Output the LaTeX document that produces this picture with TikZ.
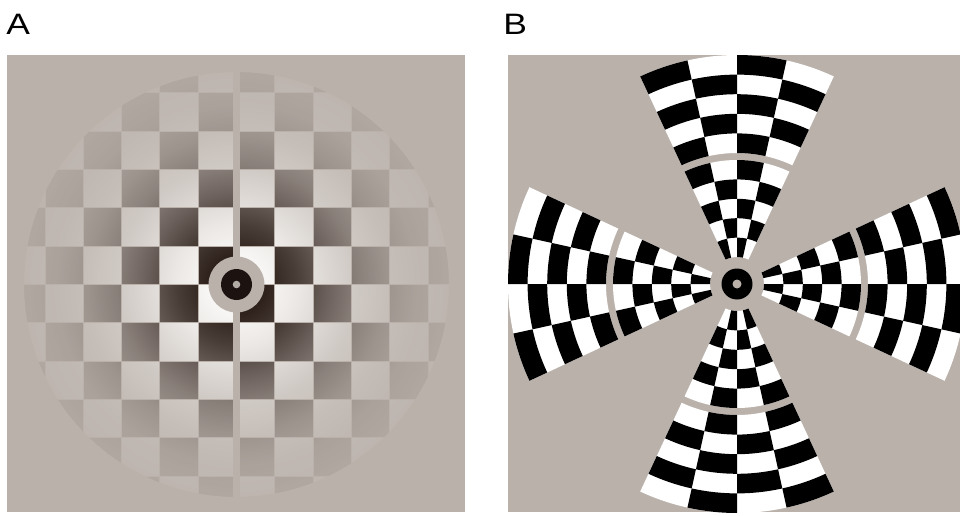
\documentclass[tikz,border=0pt]{standalone}
\usepackage{fontspec}
\setmainfont{Liberation Sans}
\usetikzlibrary{fadings}
\definecolor{bggray}{RGB}{186,177,171}
\definecolor{checklight}{RGB}{251,250,248}
\definecolor{checkdark}{RGB}{40,27,22}
\definecolor{ringdark}{RGB}{28,19,17}
\definecolor{dotgray}{RGB}{178,170,165}
\pgfdeclareradialshading{envelopeshade}{\pgfpointorigin}{%
  color(0bp)=(pgftransparent!100);
  color(3.5bp)=(pgftransparent!95);
  color(7bp)=(pgftransparent!77);
  color(10.5bp)=(pgftransparent!54);
  color(14bp)=(pgftransparent!33);
  color(17.5bp)=(pgftransparent!19);
  color(21bp)=(pgftransparent!10);
  color(25bp)=(pgftransparent!6);
  color(50bp)=(pgftransparent!6)}
\pgfdeclarefading{envelope}{\pgfuseshading{envelopeshade}}
\tikzset{
  panellabel/.style={anchor=base west,inner sep=0pt,xscale=1.2,font=\fontsize{21}{25}\selectfont}
}
\begin{document}
\begin{tikzpicture}[x=0.025cm,y=0.025cm]
    \useasboundingbox (0,0) rectangle (960,515);
    \node[panellabel] (labA) at (6,480) {A};
    \node[panellabel] (labB) at (503,480) {B};
    %% Panel A
    \fill[bggray] (7,3) rectangle (465,460);
    \begin{scope}[shift={(236.5,230.5)}]
        \begin{scope}
            \clip (0,0) circle[radius=213];
            \foreach \i in {-6,...,5} {
                \foreach \j in {-6,...,5} {
                    \pgfmathtruncatemacro\cellsum{\i+\j+12}
                    \ifodd\cellsum \def\cellcolor{checkdark}\else \def\cellcolor{checklight}\fi
                    \fill[\cellcolor] (\i*38.3+0.5,\j*38.3+0.5) rectangle ++(37.3,37.3);
                }
            }
        \end{scope}
        \fill[bggray] (-3.4,-215) rectangle (3.4,215);
        %% contrast envelope
        \fill[bggray,path fading=envelope] (0,0) circle[radius=213];
        \draw[bggray,line width=1.5pt] (0,0) circle[radius=213.5];
        \fill[bggray] (0,0) circle[radius=28];
        \fill[ringdark] (0,0) circle[radius=15.5];
        \fill[dotgray] (0,0) circle[radius=3.8];
    \end{scope}
    %% Panel B
    \fill[bggray] (508,3) rectangle (960,460);
    \begin{scope}[shift={(737,231)}]
        \clip (-229,-228) rectangle (223,229);
        \foreach \axis in {0,90,180,270} {
            \fill[white] ({\axis-25}:131) arc[start angle=\axis-25,end angle=\axis+25,radius=131]
                -- ({\axis+25}:229) arc[start angle=\axis+25,end angle=\axis-25,radius=229] -- cycle;
            \fill[white] ({\axis-25}:27) arc[start angle=\axis-25,end angle=\axis+25,radius=27]
                -- ({\axis+25}:124) arc[start angle=\axis+25,end angle=\axis-25,radius=124] -- cycle;
            \foreach \j in {0,...,3} {
                \foreach \k in {0,...,4} {
                    \pgfmathtruncatemacro\cellsum{\j+\k}
                    \ifodd\cellsum
                        \pgfmathsetmacro\aa{\axis-25+12.5*\j}
                        \pgfmathsetmacro\ab{\aa+12.5}
                        %% outer ring
                        \pgfmathsetmacro\ra{131+19.6*\k}
                        \pgfmathsetmacro\rb{\ra+19.6}
                        \fill[black] (\aa:\ra) arc[start angle=\aa,end angle=\ab,radius=\ra]
                            -- (\ab:\rb) arc[start angle=\ab,end angle=\aa,radius=\rb] -- cycle;
                        %% inner ring
                        \pgfmathsetmacro\rb{124-19.4*\k}
                        \pgfmathsetmacro\ra{\rb-19.4}
                        \fill[black] (\aa:\ra) arc[start angle=\aa,end angle=\ab,radius=\ra]
                            -- (\ab:\rb) arc[start angle=\ab,end angle=\aa,radius=\rb] -- cycle;
                    \fi
                }
            }
        }
        \fill[black] (0,0) circle[radius=15.5];
        \fill[bggray] (0,0) circle[radius=4.5];
    \end{scope}
\end{tikzpicture}
\end{document}
